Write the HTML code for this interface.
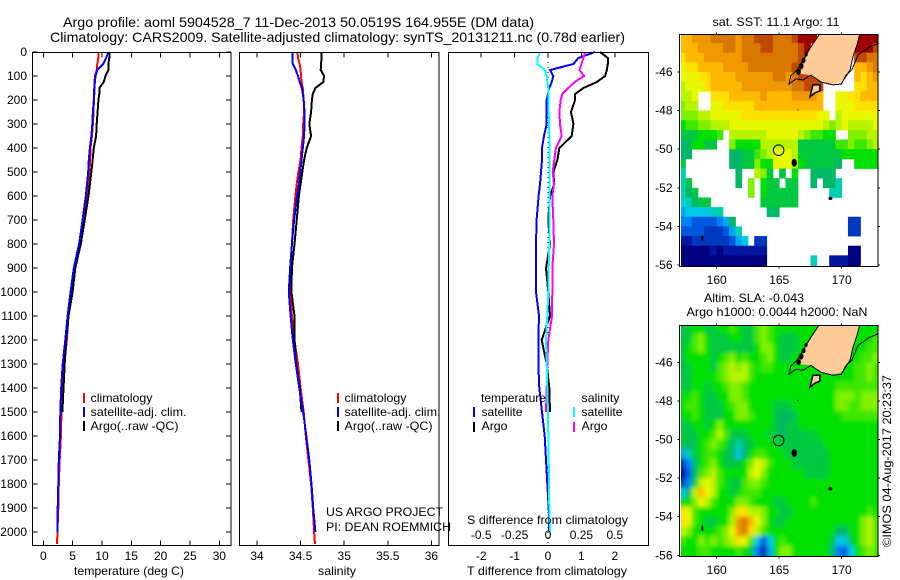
<!DOCTYPE html>
<html>
<head>
<meta charset="utf-8">
<title>Argo profile 5904528_7</title>
<style>
html,body{margin:0;padding:0;background:#fff;width:900px;height:580px;overflow:hidden}
svg{display:block}
text{font-family:"Liberation Sans",sans-serif;font-size:12px;fill:#000}
.title{font-size:14px}
.frame{fill:none;stroke:#000;stroke-width:1;shape-rendering:crispEdges}
.tick{stroke:#000;stroke-width:1;shape-rendering:crispEdges}
.line{fill:none;stroke-width:2;shape-rendering:crispEdges;stroke-linejoin:miter}
.swatch{stroke-width:2;shape-rendering:crispEdges}
</style>
</head>
<body>
<svg id="chart" xmlns="http://www.w3.org/2000/svg" width="900" height="580" viewBox="0 0 900 580">
  <defs>
    <clipPath id="clip-sst"><rect x="681" y="35" width="197" height="231"/></clipPath>
    <clipPath id="clip-sla"><rect x="681" y="326" width="197" height="230"/></clipPath>
    <filter id="sla-blur" x="-5%" y="-5%" width="110%" height="110%"><feGaussianBlur stdDeviation="2"/></filter>
  </defs>
  <rect x="0" y="0" width="900" height="580" fill="#fff"/>

  <text class="title" x="63" y="27" textLength="471" lengthAdjust="spacingAndGlyphs">Argo profile: aoml 5904528_7 11-Dec-2013 50.0519S 164.955E (DM data)</text>
  <text class="title" x="50" y="42" textLength="575" lengthAdjust="spacingAndGlyphs">Climatology: CARS2009. Satellite-adjusted climatology: synTS_20131211.nc (0.78d earlier)</text>

  <g id="g-temp"></g>
  <g id="g-sal"></g>
  <g id="g-diff"></g>
  <g id="g-sst"></g>
  <g id="g-sla"></g>

  <text x="74" y="575" textLength="110" lengthAdjust="spacingAndGlyphs">temperature (deg C)</text>
  <text x="318" y="575" textLength="38" lengthAdjust="spacingAndGlyphs">salinity</text>
  <text x="467" y="575" textLength="160" lengthAdjust="spacingAndGlyphs">T difference from climatology</text>
  <text x="467" y="524" textLength="161" lengthAdjust="spacingAndGlyphs">S difference from climatology</text>

  <g>
    <line class="swatch" x1="84" y1="393" x2="84" y2="403" stroke="#f00"/>
    <line class="swatch" x1="84" y1="407" x2="84" y2="417" stroke="#00f"/>
    <line class="swatch" x1="84" y1="421" x2="84" y2="431" stroke="#000"/>
    <text x="90.5" y="402" textLength="62" lengthAdjust="spacingAndGlyphs">climatology</text>
    <text x="90.5" y="416" textLength="96" lengthAdjust="spacingAndGlyphs">satellite-adj. clim.</text>
    <text x="90.5" y="430" textLength="88" lengthAdjust="spacingAndGlyphs">Argo(..raw -QC)</text>
  </g>
  <g>
    <line class="swatch" x1="338" y1="393" x2="338" y2="403" stroke="#f00"/>
    <line class="swatch" x1="338" y1="407" x2="338" y2="417" stroke="#00f"/>
    <line class="swatch" x1="338" y1="421" x2="338" y2="431" stroke="#000"/>
    <text x="344.5" y="402" textLength="62" lengthAdjust="spacingAndGlyphs">climatology</text>
    <text x="344.5" y="416" textLength="96" lengthAdjust="spacingAndGlyphs">satellite-adj. clim.</text>
    <text x="344.5" y="430" textLength="88" lengthAdjust="spacingAndGlyphs">Argo(..raw -QC)</text>
  </g>
  <g>
    <text x="481" y="402" textLength="65" lengthAdjust="spacingAndGlyphs">temperature</text>
    <text x="481.5" y="416" textLength="41" lengthAdjust="spacingAndGlyphs">satellite</text>
    <text x="481.5" y="430" textLength="26" lengthAdjust="spacingAndGlyphs">Argo</text>
    <line class="swatch" x1="474" y1="407" x2="474" y2="417" stroke="#00f"/>
    <line class="swatch" x1="474" y1="422" x2="474" y2="432" stroke="#000"/>
    <text x="581.5" y="402" textLength="38" lengthAdjust="spacingAndGlyphs">salinity</text>
    <text x="581.5" y="416" textLength="41" lengthAdjust="spacingAndGlyphs">satellite</text>
    <text x="581.5" y="430" textLength="26" lengthAdjust="spacingAndGlyphs">Argo</text>
    <line class="swatch" x1="574" y1="407" x2="574" y2="417" stroke="#0ff"/>
    <line class="swatch" x1="574" y1="422" x2="574" y2="432" stroke="#f0f"/>
  </g>

  <text x="326" y="516" textLength="117" lengthAdjust="spacingAndGlyphs">US ARGO PROJECT</text>
  <text x="326" y="531" textLength="125" lengthAdjust="spacingAndGlyphs">PI: DEAN ROEMMICH</text>

  <text x="776" y="26" text-anchor="middle" textLength="127" lengthAdjust="spacingAndGlyphs">sat. SST: 11.1 Argo: 11</text>
  <text x="754" y="302" text-anchor="middle" textLength="100" lengthAdjust="spacingAndGlyphs">Altim. SLA: -0.043</text>
  <text x="777" y="316" text-anchor="middle" textLength="181" lengthAdjust="spacingAndGlyphs">Argo h1000: 0.0044 h2000: NaN</text>
  <text transform="translate(891,547) rotate(-90)" x="0" y="0" textLength="172" lengthAdjust="spacingAndGlyphs">©IMOS 04-Aug-2017 20:23:37</text>
</svg>
<script>
// ---- profile data ----
const depthLevels = [0,25,50,75,100,125,150,175,200,250,300,350,400,450,500,550,600,700,800,900,1000,1100,1200,1300,1400,1500,1600,1700,1800,1900,2000,2050];
const tempClim = [9.45,9.4,9.2,9.1,8.8,8.75,8.7,8.7,8.65,8.55,8.45,8.3,8.05,8.0,7.85,7.65,7.5,7.05,6.25,5.4,4.7,4.3,4.0,3.6,3.3,3.1,3.0,2.8,2.65,2.55,2.4,2.35];
const tempSat = [11.1,10.7,10.2,9.2,8.9,8.8,8.7,8.65,8.6,8.45,8.35,8.2,7.95,7.75,7.65,7.45,7.25,6.7,6.1,5.2,4.65,4.15,3.75,3.3,3.05,2.9,2.85,2.65,2.55,2.45,2.4];
const tempArgo = [11.25,11.25,11.1,11.1,10.6,10.3,9.55,9.55,9.4,9.25,9.1,9.0,8.6,8.4,8.2,7.95,7.7,7.05,6.4,5.45,5.0,4.3,3.9,3.65,3.45,3.25];
const salClim = [34.465,34.47,34.49,34.5,34.505,34.51,34.525,34.53,34.535,34.54,34.53,34.525,34.51,34.5,34.475,34.455,34.44,34.415,34.4,34.385,34.38,34.4,34.43,34.47,34.5,34.535,34.56,34.59,34.62,34.64,34.655,34.665];
const salSat = [34.405,34.405,34.41,34.445,34.47,34.49,34.515,34.525,34.535,34.545,34.545,34.54,34.525,34.51,34.495,34.48,34.46,34.425,34.4,34.38,34.365,34.385,34.41,34.445,34.485,34.53,34.565,34.6,34.625,34.645,34.67];
const salArgo = [34.74,34.74,34.735,34.73,34.77,34.76,34.67,34.64,34.63,34.62,34.6,34.62,34.57,34.54,34.52,34.5,34.48,34.455,34.43,34.4,34.395,34.43,34.43,34.45,34.49,34.51];
const diffTSat = [1.41,.91,.76,.06,.16,.11,.04,0,-.04,-.04,-.04,-.12,-.18,-.18,-.21,-.24,-.28,-.34,-.36,-.36,-.36,-.27,-.29,-.29,-.26,-.18,-.1,-.06,-.02,.02,.04];
const diffTArgo = [1.56,1.79,1.79,1.76,1.71,1.46,1.06,.81,.81,.69,.76,.71,.34,.28,.16,.19,.06,.01,.06,-.06,.01,.06,-.19,-.04,.04,.06];
const diffSSat = [-.06,-.0775,-.08,-.0225,-.01,-.005,.0025,.0025,.0025,.005,.0075,.01,.01,.01,.01,.01,.01,.01,.01,.005,.0025,-.005,-.015,-.01,-.005,0,.0025,.005,.0075,.01,.015];
const diffSArgo = [.2775,.265,.25,.235,.27,.2,.1525,.1075,.095,.085,.09,.1025,.06,.0475,.035,.045,.0325,.04,.045,.0325,.0325,.03,.0025,-.005,-.01,-.015];

// ---- tick labels ----
const depthTicks = [0,100,200,300,400,500,600,700,800,900,1000,1100,1200,1300,1400,1500,1600,1700,1800,1900,2000];
const tempTicks = [0,5,10,15,20,25,30];
const salTicks = [34,34.5,35,35.5,36];
const diffTTicks = [-2,-1,0,1,2];
const diffSTicks = [-0.5,-0.25,0,0.25,0.5];
const lonTicks = [160,165,170];
const latTicks = [46,48,50,52,54,56];

// ---- map data: 0.5 degree cells, lon 157E.. / lat 44S.. ; colour index 0..20 ----
const _ = null;
const sstGrid = [
[16,16,17,17,17,18,18,18,18,17,18,18,19,19,19,18,18,18,19,20,20,20,_,_,_,_,_,_,20,20,20,20],
[16,16,16,17,17,17,17,18,18,17,18,18,18,19,19,18,18,18,18,19,20,_,_,_,_,_,_,_,20,20,20,19],
[15,16,16,16,17,17,17,17,17,17,18,18,18,18,18,18,18,18,18,19,19,_,_,_,_,_,_,_,19,19,18,18],
[14,15,15,16,16,16,16,17,17,17,17,18,18,18,18,18,18,18,19,19,19,_,_,_,_,_,_,_,16,16,17,18],
[14,14,14,15,15,16,16,16,16,17,17,17,17,17,17,18,18,17,18,19,19,19,19,18,_,_,_,_,16,15,16,17],
[13,14,14,14,15,16,16,16,16,16,17,17,17,17,17,17,17,17,18,18,19,19,19,_,_,_,_,_,15,15,16,16],
[13,13,14,_,_,15,15,15,16,16,16,16,16,17,16,16,16,16,17,17,17,17,16,_,_,14,14,15,15,16,16,16],
[12,13,13,_,_,14,14,15,15,15,15,15,16,16,16,16,16,16,16,16,16,16,16,_,_,14,14,14,15,15,15,15],
[12,12,12,13,13,14,14,14,14,14,15,15,15,15,15,15,15,15,15,15,15,15,14,14,_,13,14,14,14,14,14,14],
[10,11,11,12,12,13,13,13,14,14,14,14,14,14,14,14,14,14,14,14,14,14,14,13,12,13,14,13,13,13,13,14],
[9,9,9,10,10,10,11,_,13,13,13,13,13,13,14,14,14,14,14,13,12,11,11,10,10,_,_,12,12,12,13,13],
[8,8,10,10,9,9,_,_,12,10,10,10,10,13,13,13,13,13,13,9,9,9,9,9,9,11,11,12,11,11,12,13],
[8,8,_,_,_,_,_,_,8,8,9,9,11,12,13,14,14,14,13,9,9,9,9,9,9,9,10,10,10,10,10,10],
[9,_,_,_,_,_,_,_,8,8,9,9,12,10,10,14,14,14,13,10,9,9,9,9,9,8,_,_,10,10,10,10],
[7,_,_,_,_,_,_,_,_,8,_,_,13,12,9,_,9,_,10,_,_,8,8,8,8,_,_,_,_,_,_,_],
[7,9,_,_,_,_,_,_,_,8,_,12,_,10,9,9,_,9,9,_,_,8,_,8,8,7,_,_,_,_,_,_],
[7,8,9,_,_,_,_,_,_,_,_,12,_,10,9,9,9,9,9,_,_,_,_,_,7,7,_,_,_,_,_,_],
[6,7,8,9,9,_,_,_,_,_,_,_,_,9,9,9,9,9,9,_,_,_,_,_,_,_,_,_,_,_,_,_],
[5,6,6,6,6,7,7,_,_,_,_,_,_,_,8,8,_,_,_,_,_,_,_,_,_,_,_,_,_,_,_,_],
[4,4,3,3,3,3,4,5,8,_,_,_,_,_,_,_,_,_,_,_,_,_,_,_,_,_,_,2,2,_,_,_],
[3,3,3,3,2,2,2,3,5,7,_,_,_,_,_,_,_,_,_,_,_,_,_,_,_,_,_,2,2,_,_,_],
[1,1,2,2,2,2,2,2,3,5,6,_,2,2,_,_,_,_,_,_,_,_,_,_,_,_,_,_,_,_,_,_],
[0,0,0,0,0,1,0,1,1,1,1,1,1,1,_,_,_,_,_,_,_,_,_,_,_,_,_,0,0,_,_,_],
[0,0,0,0,0,0,0,0,0,0,0,0,0,0,_,_,_,_,_,_,_,7,_,_,1,1,1,0,0,_,_,_]
];
const slaGrid = [
[9,9,10,10,9,9,10,10,11,10,9,9,11,12,11,10,10,10,10,10,10,10,10,10,10,10,10,10,10,10,10,10],
[9,9,11,12,10,9,9,9,10,10,9,9,11,12,11,10,9,9,9,10,10,10,10,10,10,10,10,10,10,10,10,11],
[9,10,11,12,10,9,9,9,9,9,9,9,10,12,12,10,9,9,9,10,10,10,10,10,10,10,10,10,10,10,11,11],
[9,10,10,10,10,9,10,11,12,10,11,10,10,11,12,10,9,9,10,10,10,10,10,10,10,10,10,10,10,11,11,12],
[9,9,10,10,10,9,11,12,13,12,13,11,10,11,11,10,10,10,10,10,10,10,10,10,10,10,10,10,11,11,12,11],
[9,9,10,10,10,10,11,12,13,13,13,11,10,10,10,10,10,10,10,10,10,10,10,10,10,10,10,10,11,11,12,11],
[9,9,10,10,9,10,10,11,12,12,11,10,10,10,10,10,10,10,10,10,10,10,10,10,10,11,11,11,11,11,11,11],
[10,10,11,10,9,9,10,10,12,12,11,10,10,10,10,10,10,10,10,10,10,10,10,10,10,12,12,12,11,12,12,12],
[10,11,11,10,9,9,9,10,11,12,12,10,10,10,10,9,9,9,10,10,10,10,10,10,10,12,12,11,11,12,12,12],
[10,10,11,10,9,9,9,10,10,12,12,11,10,10,10,9,8,8,9,10,10,10,10,10,10,10,11,11,11,11,11,11],
[9,9,10,10,9,10,12,10,10,10,10,10,10,10,10,9,8,9,9,10,10,10,10,10,10,10,10,10,10,10,10,10],
[9,9,9,10,10,11,13,11,9,9,9,10,10,10,9,9,8,9,9,9,9,9,10,10,10,10,10,10,10,10,10,10],
[9,8,9,10,11,12,11,10,8,7,8,9,10,10,10,10,9,9,9,9,9,9,9,10,10,10,10,10,10,10,10,10],
[5,7,9,10,11,11,10,9,8,6,8,10,11,11,10,10,10,9,9,9,9,9,9,9,10,10,10,10,10,10,10,10],
[2,4,8,10,11,12,10,9,9,9,10,12,14,13,11,10,10,10,9,9,9,9,9,9,10,10,10,10,10,10,10,10],
[1,3,8,11,12,13,11,10,10,10,10,13,14,12,10,10,10,10,10,10,9,9,9,9,10,10,10,10,10,10,10,10],
[2,4,9,13,14,13,11,10,9,9,11,12,12,11,10,10,10,10,10,10,10,10,10,10,10,10,10,10,10,10,10,10],
[6,8,13,16,14,13,10,10,9,10,11,11,11,10,10,10,10,10,10,10,10,10,10,10,10,10,10,10,10,10,10,10],
[10,10,12,14,13,11,10,10,10,12,12,11,10,10,10,9,9,10,10,10,10,11,10,10,10,10,10,10,10,10,10,10],
[15,14,11,10,10,10,10,10,12,15,15,13,13,12,10,10,9,9,10,10,10,10,10,10,10,10,10,10,10,10,11,10],
[15,14,11,10,9,9,10,10,13,17,18,16,14,12,10,9,9,10,10,10,10,10,10,10,10,10,10,10,10,12,13,11],
[13,12,10,10,10,10,11,12,14,17,18,15,13,11,10,10,10,10,10,10,10,10,10,10,10,8,8,10,10,12,13,11],
[11,10,10,12,11,12,11,12,13,15,14,11,6,3,6,10,11,10,10,10,10,10,10,10,9,6,6,9,10,12,13,11],
[10,10,10,11,11,10,10,10,10,11,10,9,4,1,5,10,12,12,10,10,10,10,10,10,8,4,3,6,10,11,12,11]
];
const colorStops = [0,1,2,3,4,5,6,7,8,9,10,11,12,13,14,15,16,17,18,19,20];
const colorValues = ['#000080','#0018a0','#0038c0','#0058e0','#0080f8','#00a8f0','#00c8e8','#00d0b0','#00b868','#00c840','#00e000','#40e800','#80f000','#b8f400','#e8f800','#ffe000','#ffb800','#f09800','#d87800','#c04800','#a00000'];

// ---- coastline (lon, lat) ----
const landLon = [168.18,171.46,171.22,170.9,170.66,170.34,169.94,169.3,168.34,167.54,166.66,166.9,167.14,167.54];
const landLat = [44.0,44.0,44.6,45.22,45.84,46.26,46.52,46.67,46.52,46.16,46.1,45.64,45.22,44.7];
const isleLon = [167.7,168.26,168.26,167.86,167.46];
const isleLat = [46.67,46.67,46.98,47.08,47.29];
const coastALon = [165.77,165.93,166.42,166.66,167.06,167.54,168.18];
const coastALat = [46.67,46.2,45.9,45.64,45.22,44.7,44.08];
const coastBLon = [165.78,166.34,166.9,167.54,168.34,169.3,169.94,170.66,170.9,171.22,171.46];
const coastBLat = [46.62,46.36,46.41,46.16,46.52,46.67,46.62,45.9,45.22,44.6,44.0];
const coastCLon = [169.94,170.34,170.8,171.3,172.26,173];
const coastCLat = [46.67,46.16,45.9,45.12,44.7,44.5];
const blobLon = [166.55,166.75,166.95,167.15,166.2,169.1,158.85,166.5];
const blobLat = [46.0,45.7,45.4,45.1,50.7,52.55,54.6,47.97];
const blobRx = [2.2,2.4,2,1.6,2.6,2,1,0.6];
const blobRy = [3,3,2.5,2,4,1.6,3,0.6];
const argoLon = [164.955];
const argoLat = [50.0519];

// ---- scales ----
const depthY = d => 52 + d * 0.24;
const tempX = v => 43.3 + v * 5.867;
const salX = v => 257 + (v - 34) * 87.2;
const diffTX = v => 548 + v * 33.4;
const diffSX = v => 548 + v * 133.6;
const mapX = lon => 716.7 + (lon - 160) * 12.5;
const sstY = lat => 72 + (lat - 46) * 19.3;
const slaY = lat => 362.3 + (lat - 46) * 19.3;

const NS = 'http://www.w3.org/2000/svg';
function mk(parent, tag, props) {
  const e = document.createElementNS(NS, tag);
  for (const k in props) e.setAttribute(k, props[k]);
  parent.appendChild(e);
  return e;
}
function colorFor(v) {
  const i = Math.max(0, Math.min(colorStops.length - 1, Math.round(v)));
  return colorValues[i];
}
function drawFrame(g, x, y, w, h) {
  const r = mk(g, 'rect', {x: x, y: y, width: w, height: h, class: 'frame'});
  
  
}
function drawTick(g, x1, y1, x2, y2) {
  const t = mk(g, 'line', {x1: x1, y1: y1, x2: x2, y2: y2, class: 'tick'});
  
  
}
function drawLabel(g, x, y, str, anchor) {
  const t = mk(g, 'text', {x: x, y: y, 'text-anchor': anchor});
  t.textContent = str;
  
  
}
function drawSeries(g, values, xf, color, name) {
  const pts = values.map((v, i) => xf(v).toFixed(1) + ',' + depthY(depthLevels[i]).toFixed(1)).join(' ');
  const p = mk(g, 'polyline', {points: pts, stroke: color, class: 'line'});
  
  
}

// ---- temperature panel ----
const gT = document.getElementById('g-temp');
drawSeries(gT, tempClim, tempX, '#f00', 'series-climatology');
drawSeries(gT, tempArgo, tempX, '#000', 'series-argo');
drawSeries(gT, tempSat, tempX, '#00f', 'series-satellite');
drawFrame(gT, 32.5, 52.5, 198.5, 493);
depthTicks.forEach(d => {
  drawTick(gT, 32.5, depthY(d), 37.5, depthY(d));
  drawTick(gT, 226, depthY(d), 231, depthY(d));
  drawLabel(gT, 27, depthY(d) + 4, String(d), 'end');
});
tempTicks.forEach(v => {
  drawTick(gT, tempX(v), 52.5, tempX(v), 57.5);
  drawTick(gT, tempX(v), 540.5, tempX(v), 545.5);
  drawLabel(gT, tempX(v), 560, String(v), 'middle');
});

// ---- salinity panel ----
const gS = document.getElementById('g-sal');
drawSeries(gS, salClim, salX, '#f00', 'series-climatology');
drawSeries(gS, salArgo, salX, '#000', 'series-argo');
drawSeries(gS, salSat, salX, '#00f', 'series-satellite');
drawFrame(gS, 239.5, 52.5, 199.5, 493);
salTicks.forEach(v => {
  drawTick(gS, salX(v), 52.5, salX(v), 57.5);
  drawTick(gS, salX(v), 540.5, salX(v), 545.5);
  drawLabel(gS, salX(v), 560, String(v), 'middle');
});

// ---- difference panel ----
const gD = document.getElementById('g-diff');
const zero = mk(gD, 'line', {x1: diffTX(0), y1: 52, x2: diffTX(0), y2: 545, stroke: '#000', 'stroke-width': 1, 'stroke-dasharray': '1 4', 'shape-rendering': 'crispEdges'});


drawSeries(gD, diffTArgo, diffTX, '#000', 'series-t-argo');
drawSeries(gD, diffTSat, diffTX, '#00f', 'series-t-satellite');
drawSeries(gD, diffSArgo, diffSX, '#f0f', 'series-s-argo');
drawSeries(gD, diffSSat, diffSX, '#0ff', 'series-s-satellite');
drawFrame(gD, 448.5, 52.5, 200, 493);
diffTTicks.forEach(v => {
  drawTick(gD, diffTX(v), 52.5, diffTX(v), 57.5);
  drawLabel(gD, diffTX(v), 560, String(v), 'middle');
});
diffSTicks.forEach(v => {
  drawLabel(gD, diffSX(v), 539, String(v), 'middle');
});

// ---- maps ----
function drawCells(parent, grid, yf) {
  const lastRow = grid.length - 1;
  grid.forEach((row, i) => {
    const lastCol = row.length - 1;
    row.forEach((v, j) => {
      if (v === null) return;
      const lon = 157 + j * 0.5;
      const lat = 44 + i * 0.5;
      // edge cells bleed past the clip so the blur does not fade at the border
      const left = j === 0 ? 12 : 0;
      const right = j === lastCol ? 12 : 0;
      const above = i === 0 ? 12 : 0;
      const below = i === lastRow ? 12 : 0;
      const c = mk(parent, 'rect', {
        x: (mapX(lon) - left).toFixed(2),
        y: (yf(lat) - above).toFixed(2),
        width: (mapX(lon + 0.5) - mapX(lon) + 0.4 + left + right).toFixed(2),
        height: (yf(lat + 0.5) - yf(lat) + 0.4 + above + below).toFixed(2),
        fill: colorFor(v)
      });
      
      
    });
  });
}
function toPts(lons, lats, yf) {
  return lons.map((lon, i) => mapX(lon).toFixed(1) + ',' + yf(lats[i]).toFixed(1)).join(' ');
}
function drawGeo(g, yf) {
  const land = mk(g, 'polygon', {points: toPts(landLon, landLat, yf), fill: '#ffcc99'});
  
  
  const isle = mk(g, 'polygon', {points: toPts(isleLon, isleLat, yf), fill: '#ffcc99', stroke: '#000', 'stroke-width': 1.5});
  
  
  [[coastALon, coastALat], [coastBLon, coastBLat], [coastCLon, coastCLat]].forEach(pair => {
    const c = mk(g, 'polyline', {points: toPts(pair[0], pair[1], yf), fill: 'none', stroke: '#000', 'stroke-width': 1, 'shape-rendering': 'crispEdges'});
    
    
  });
  blobLon.forEach((lon, i) => {
    const b = mk(g, 'ellipse', {cx: mapX(lon), cy: yf(blobLat[i]), rx: blobRx[i], ry: blobRy[i], fill: '#000'});
    
    
  });
  argoLon.forEach((lon, i) => {
    const m = mk(g, 'circle', {cx: mapX(lon), cy: yf(argoLat[i]), r: 5.3, fill: 'none', stroke: '#000', 'stroke-width': 1});
    
    
  });
}
function drawMapAxes(g, yf, top, bottom, labelY) {
  drawFrame(g, 679.5, top, 198.5, bottom - top);
  lonTicks.forEach(lon => {
    drawTick(g, mapX(lon), top - 2, mapX(lon), top);
    drawTick(g, mapX(lon), bottom, mapX(lon), bottom + 2);
    drawLabel(g, mapX(lon), labelY, String(lon), 'middle');
  });
  latTicks.forEach(lat => {
    drawTick(g, 677.5, yf(lat), 679.5, yf(lat));
    drawTick(g, 878, yf(lat), 880, yf(lat));
    drawLabel(g, 672.5, yf(lat) + 4, '-' + lat, 'end');
  });
}

const gSst = document.getElementById('g-sst');
const sstClip = mk(gSst, 'g', {'clip-path': 'url(#clip-sst)'});


drawCells(sstClip, sstGrid, sstY);
drawGeo(sstClip, sstY);
drawMapAxes(gSst, sstY, 34.5, 266.5, 284);

const gSla = document.getElementById('g-sla');
const slaClip = mk(gSla, 'g', {'clip-path': 'url(#clip-sla)'});


const slaBack = mk(slaClip, 'rect', {x: 681, y: 326, width: 197, height: 230, fill: '#00e000'});


const slaCells = mk(slaClip, 'g', {filter: 'url(#sla-blur)'});


drawCells(slaCells, slaGrid, slaY);
drawGeo(slaClip, slaY);
drawMapAxes(gSla, slaY, 325.5, 556.5, 574);
</script>
</body>
</html>
